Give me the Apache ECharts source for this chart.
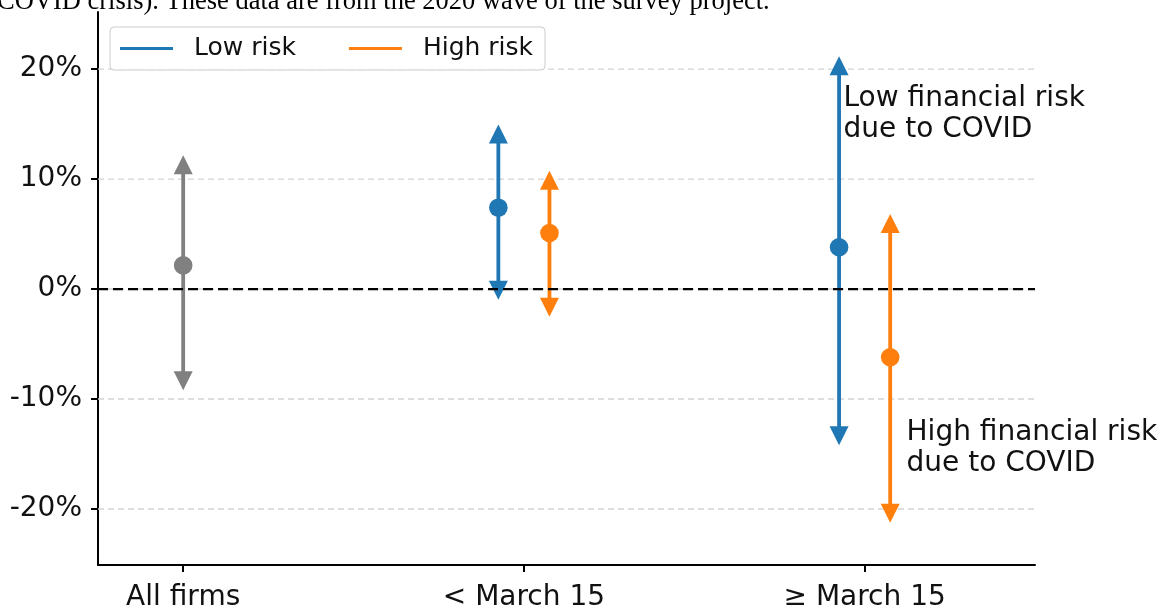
<!DOCTYPE html>
<html>
<head>
<meta charset="utf-8">
<script src="https://cdn.jsdelivr.net/npm/echarts@6/dist/echarts.min.js"></script>
<style>
html,body{margin:0;padding:0;background:#fff;}
#chart{width:1162px;height:606px;}
</style>
</head>
<body>
<div id="chart"></div>
<script>
// ---- data ----
const categories = ['All firms', '< March 15', '\u2265 March 15'];
const catPos = [0, 1, 2];
const yTicks = [-20, -10, 0, 10, 20];

// All firms (gray)
const allMid = [2.15];
const allLo = [-8.35];
const allHi = [11.3];

// Low risk (blue) at "< March 15", "≥ March 15"
const lowMid = [7.4, 3.8];
const lowLo = [-0.1, -13.35];
const lowHi = [14.1, 20.3];

// High risk (orange)
const highMid = [5.1, -6.2];
const highLo = [-1.65, -20.4];
const highHi = [9.9, 5.97];

const annotationTexts = ['Low financial risk\ndue to COVID', 'High financial risk\ndue to COVID'];
const captionText = 'COVID crisis). These data are from the 2020 wave of the survey project.';

// ---- layout / style ----
const GROUP_OFF = 0.075;
const annAnchors = [[1.938, 15.86], [2.123, -14.5]];
const SANS = '"DejaVu Sans", sans-serif';
const C_BLUE = '#1f77b4', C_ORANGE = '#ff7f0e', C_GRAY = '#808080';

function rangeRender(color) {
  return function (params, api) {
    const x = api.value(0);
    const pL = api.coord([x, api.value(1)]);
    const pM = api.coord([x, api.value(2)]);
    const pH = api.coord([x, api.value(3)]);
    const s = 9.5;
    return {
      type: 'group',
      children: [
        {type: 'line', shape: {x1: pL[0], y1: pL[1], x2: pH[0], y2: pH[1]}, style: {stroke: color, lineWidth: 3.8}},
        {type: 'polygon', shape: {points: [[pH[0], pH[1] - s], [pH[0] - s, pH[1] + s], [pH[0] + s, pH[1] + s]]}, style: {fill: color}},
        {type: 'polygon', shape: {points: [[pL[0], pL[1] + s], [pL[0] - s, pL[1] - s], [pL[0] + s, pL[1] - s]]}, style: {fill: color}},
        {type: 'circle', shape: {cx: pM[0], cy: pM[1], r: 9.3}, style: {fill: color}}
      ]
    };
  };
}

const allData = allMid.map((m, i) => [catPos[0], allLo[i], m, allHi[i]]);
const lowData = lowMid.map((m, i) => [catPos[i + 1] - GROUP_OFF, lowLo[i], m, lowHi[i]]);
const highData = highMid.map((m, i) => [catPos[i + 1] + GROUP_OFF, highLo[i], m, highHi[i]]);

const chart = echarts.init(document.getElementById('chart'), null, {renderer: 'canvas'});

const option = {
  animation: false,
  backgroundColor: '#ffffff',
  grid: {left: 98, right: 127, top: 12, bottom: 41, containLabel: false, outerBoundsMode: 'none'},
  xAxis: {
    type: 'value', min: -0.25, max: 2.5,
    splitLine: {show: false},
    axisLine: {show: true, onZero: false, lineStyle: {color: '#000', width: 2}},
    axisTick: {show: true, customValues: catPos, length: 7, lineStyle: {color: '#000', width: 2}},
    axisLabel: {
      customValues: catPos, margin: 19,
      formatter: v => categories[Math.round(v)] || '',
      color: '#111', fontFamily: SANS, fontSize: 28
    }
  },
  yAxis: {
    type: 'value', min: -25.1, max: 25.2,
    splitLine: {show: false},
    axisLine: {show: true, onZero: false, lineStyle: {color: '#000', width: 2}},
    axisTick: {show: true, customValues: yTicks, length: 7, lineStyle: {color: '#000', width: 2}},
    axisLabel: {
      customValues: yTicks, margin: 16,
      formatter: v => v + '%',
      color: '#111', fontFamily: SANS, fontSize: 28
    }
  },
  legend: {
    data: ['Low risk', 'High risk'],
    left: 110, top: 27,
    orient: 'horizontal',
    icon: 'rect', itemWidth: 53, itemHeight: 3, itemGap: 53,
    padding: [9, 12, 9, 10],
    backgroundColor: 'rgba(255,255,255,0.85)',
    borderColor: '#cccccc', borderWidth: 1, borderRadius: 4,
    selectedMode: false,
    textStyle: {fontFamily: SANS, fontSize: 25, color: '#111', padding: [0, 0, 0, 16]}
  },
  graphic: [
    {type: 'text', x: -3, y: 2, style: {text: captionText, font: '26.5px "Liberation Serif", serif', fill: '#000', verticalAlign: 'middle', align: 'left'}}
  ],
  series: [
    {
      name: 'grid', type: 'custom', silent: true, z: 1,
      data: yTicks.map(v => [0, v]),
      renderItem: function (params, api) {
        const cs = params.coordSys;
        const y = api.coord([0, api.value(1)])[1];
        return {type: 'line', shape: {x1: cs.x, y1: y, x2: cs.x + cs.width, y2: y},
          style: {stroke: '#d3d3d3', lineWidth: 1.4, lineDash: [6, 4]}};
      }
    },
    {name: 'All firms', type: 'custom', z: 3, itemStyle: {color: C_GRAY}, data: allData, encode: {x: 0, y: [1, 2, 3]}, renderItem: rangeRender(C_GRAY)},
    {name: 'Low risk', type: 'custom', z: 3, itemStyle: {color: C_BLUE}, data: lowData, encode: {x: 0, y: [1, 2, 3]}, renderItem: rangeRender(C_BLUE)},
    {name: 'High risk', type: 'custom', z: 3, itemStyle: {color: C_ORANGE}, data: highData, encode: {x: 0, y: [1, 2, 3]}, renderItem: rangeRender(C_ORANGE)},
    {
      name: 'zero', type: 'custom', silent: true, z: 4,
      data: [[0, 0]],
      renderItem: function (params, api) {
        const cs = params.coordSys;
        const y = api.coord([0, api.value(1)])[1];
        return {type: 'line', shape: {x1: cs.x, y1: y, x2: cs.x + cs.width, y2: y},
          style: {stroke: '#000', lineWidth: 2.2, lineDash: [10, 5]}};
      }
    },
    {
      name: 'annotations', type: 'custom', silent: true, z: 5,
      data: annAnchors.map((a, i) => [a[0], a[1], i]),
      renderItem: function (params, api) {
        const p = api.coord([api.value(0), api.value(1)]);
        return {type: 'text', x: p[0], y: p[1],
          style: {text: annotationTexts[api.value(2)], fill: '#111', fontFamily: SANS, fontSize: 28,
            lineHeight: 31, align: 'left', verticalAlign: 'middle'}};
      }
    }
  ]
};
chart.setOption(option);
</script>
</body>
</html>
